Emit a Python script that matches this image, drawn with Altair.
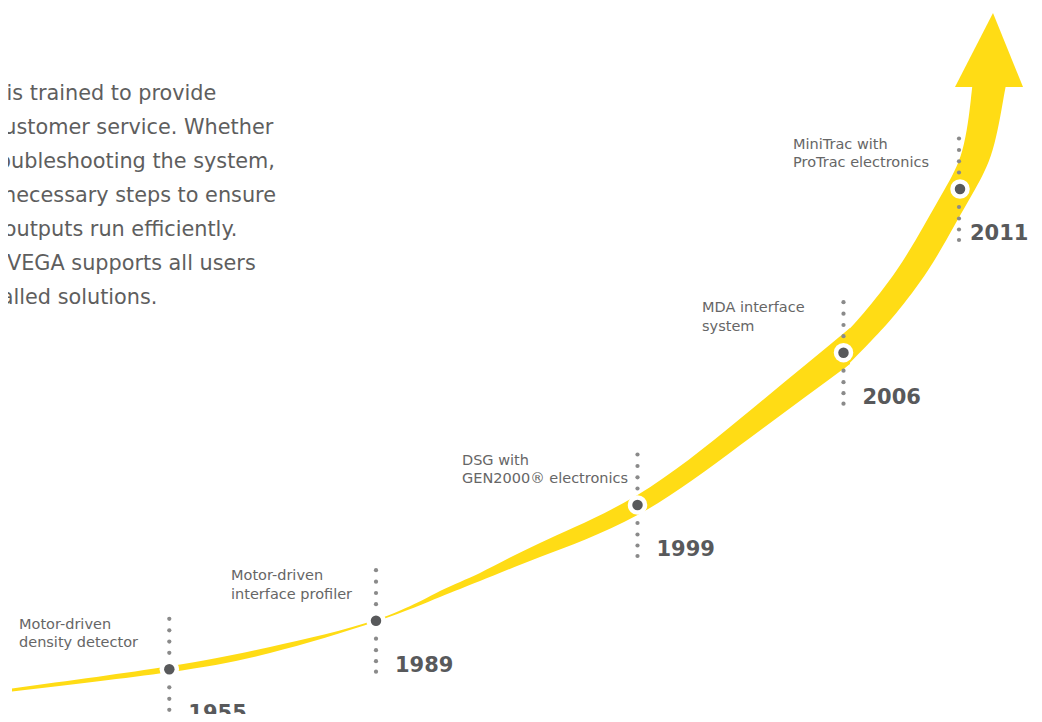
import altair as alt
import pandas as pd

# ---------------- data (screen pixel space) ----------------
# lower, flatter part of the ribbon: top and bottom edge at each x
low_x = [12, 169, 270, 376, 440, 480, 540, 637.5, 740, 850]
low_top = [688.5, 666.3, 646.9, 619.8, 591.0, 572.9, 542.9, 494.9, 418.7, 328.0]
low_bot = [691.5, 672.3, 653.1, 621.6, 597.0, 581.1, 557.1, 515.1, 445.3, 364.0]

# upper, steep part of the ribbon: left and right edge at each y
up_y = [370, 340, 313, 270, 225, 189, 150, 100, 80]
up_left = [807, 838.4, 863.7, 896.8, 924.3, 944.8, 962.4, 970.8, 972.9]
up_right = [843, 872, 896.3, 928.2, 954.7, 975.2, 992.6, 1003.2, 1007.1]

# arrow head
arrow_y = [13, 87]
arrow_x_left = [993, 955]
arrow_x_right = [993, 1023]

# milestones
years = ["1955", "1989", "1999", "2006", "2011"]
year_x = [169.3, 376, 637.5, 843.5, 960]
year_y = [669.3, 620.7, 505, 352.7, 189]
descriptions = [
    "Motor-driven\ndensity detector",
    "Motor-driven\ninterface profiler",
    "DSG with\nGEN2000® electronics",
    "MDA interface\nsystem",
    "MiniTrac with\nProTrac electronics",
]

# intro paragraph (clipped by the left edge)
para_lines = [
    "is trained to provide",
    "customer service. Whether",
    "troubleshooting the system,",
    "necessary steps to ensure",
    "outputs run efficiently.",
    "VEGA supports all users",
    "installed solutions.",
]

# ---------------- layout / style ----------------
YELLOW = "#FFDC15"
DARK = "#58595b"
GREY_DOT = "#8a8a8a"
desc_left = [19, 231, 462, 702, 793]
year_dx = [19, 19, 19, 19, 10]
dot_offsets = [-50.5, -39, -27.7, -16.5, 18, 29.5, 40.5, 51]
para_left = [6.5, -8.2, -17.9, 3.1, 3.8, 7, -37.2]
para_base0, para_step = 99.5, 34.0

low_df = pd.DataFrame({"x": low_x, "yt": low_top, "yb": low_bot})
up_df = pd.DataFrame({"y": up_y, "xl": up_left, "xr": up_right})
arrow_df = pd.DataFrame({"y": arrow_y, "xl": arrow_x_left, "xr": arrow_x_right})
ms_df = pd.DataFrame({
    "year": years, "x": year_x, "y": year_y, "desc": descriptions,
    "lx": [x + d for x, d in zip(year_x, year_dx)],
    "ly": [y + 51 for y in year_y],
    "dx": desc_left,
    "dy": [y - 40.5 for y in year_y],
})
dots_df = pd.DataFrame([
    {"x": x - 1 if i == 4 else x, "y": y + o}
    for i, (x, y) in enumerate(zip(year_x, year_y)) for o in dot_offsets
])
para_df = pd.DataFrame({
    "t": para_lines, "x": para_left,
    "y": [para_base0 + para_step * k for k in range(len(para_lines))],
})

xs = alt.Scale(domain=[8, 1034], range=[0, 1026], nice=False, zero=False)
ys = alt.Scale(domain=[8, 714], range=[0, 706], nice=False, zero=False)


def X(f):
    return alt.X(f"{f}:Q", scale=xs, axis=None)


def Y(f):
    return alt.Y(f"{f}:Q", scale=ys, axis=None)


low = alt.Chart(low_df).mark_area(color=YELLOW, interpolate="natural", opacity=1).encode(
    x=X("x"), y=Y("yt"), y2=alt.Y2("yb"),
)
up = alt.Chart(up_df).mark_area(color=YELLOW, orient="horizontal", interpolate="natural", opacity=1).encode(
    y=Y("y"), x=X("xl"), x2=alt.X2("xr"),
)
arrow = alt.Chart(arrow_df).mark_area(color=YELLOW, orient="horizontal", opacity=1).encode(
    y=Y("y"), x=X("xl"), x2=alt.X2("xr"),
)

rings = alt.Chart(ms_df).mark_circle(color="white", opacity=1, size=380).encode(x=X("x"), y=Y("y"))
cores = alt.Chart(ms_df).mark_circle(color=DARK, opacity=1, size=110).encode(x=X("x"), y=Y("y"))
gdots = alt.Chart(dots_df).mark_circle(color=GREY_DOT, opacity=1, size=18).encode(x=X("x"), y=Y("y"))

year_txt = alt.Chart(ms_df).mark_text(
    font="DejaVu Sans", fontWeight="bold", fontSize=21, color=DARK,
    align="left", baseline="alphabetic",
).encode(x=X("lx"), y=Y("ly"), text="year:N")

desc_txt = alt.Chart(ms_df).mark_text(
    font="DejaVu Sans", fontSize=14.5, color="#666666",
    align="left", baseline="alphabetic", lineBreak="\n", lineHeight=18.5,
).encode(x=X("dx"), y=Y("dy"), text="desc:N")

para_txt = alt.Chart(para_df).mark_text(
    font="DejaVu Sans", fontSize=20.8, color="#5e5e5e",
    align="left", baseline="alphabetic",
).encode(x=X("x"), y=Y("y"), text="t:N")

chart = alt.layer(low, up, arrow, rings, cores, gdots, year_txt, desc_txt, para_txt).properties(
    width=1026, height=706, padding=0, autosize="none", background="white",
).configure_view(strokeWidth=0)

chart.save("out.html", embed_options={"renderer": "svg", "actions": False})
